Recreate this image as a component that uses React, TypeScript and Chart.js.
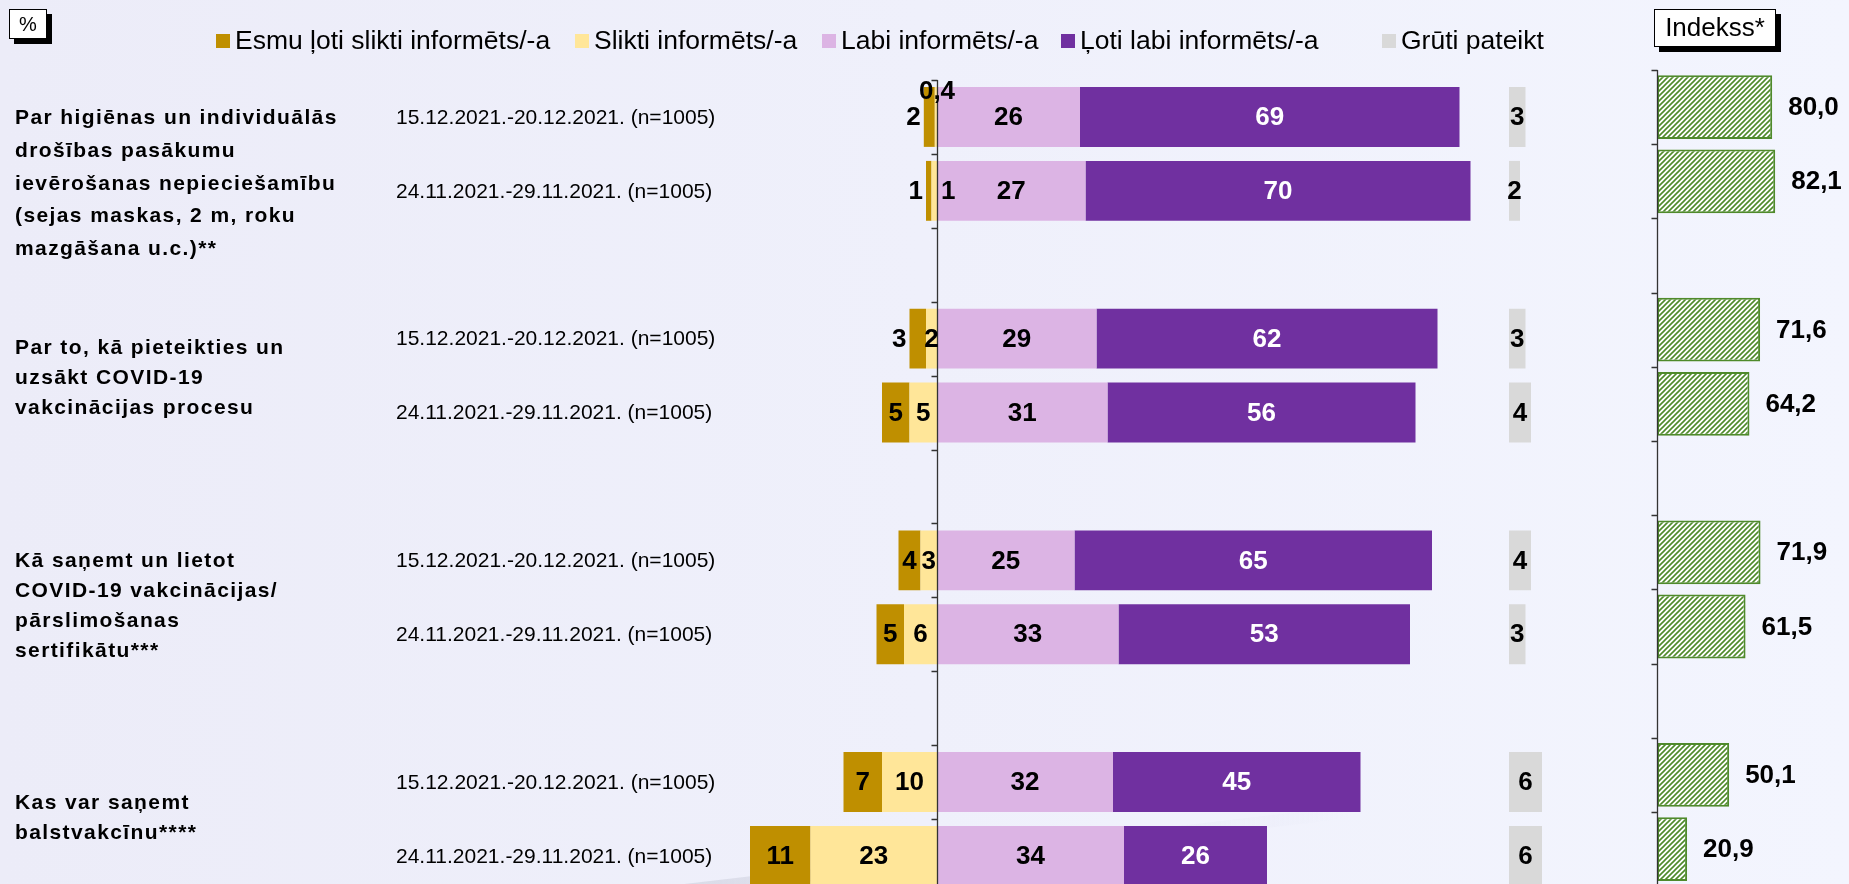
import React, { useEffect, useRef } from "react";
import { Chart, registerables } from "chart.js";

Chart.register(...registerables);

// ---------------- DATA ----------------
const GROUP_LABELS: string[][] = [
  ["Par higiēnas un individuālās", "drošības pasākumu", "ievērošanas nepieciešamību", "(sejas maskas, 2 m, roku", "mazgāšana u.c.)**"],
  ["Par to, kā pieteikties un", "uzsākt COVID-19", "vakcinācijas procesu"],
  ["Kā saņemt un lietot", "COVID-19 vakcinācijas/", "pārslimošanas", "sertifikātu***"],
  ["Kas var saņemt", "balstvakcīnu****"],
];
const WAVES = ["15.12.2021.-20.12.2021. (n=1005)", "24.11.2021.-29.11.2021. (n=1005)"];
const SERIES_NAMES = [
  "Esmu ļoti slikti informēts/-a",
  "Slikti informēts/-a",
  "Labi informēts/-a",
  "Ļoti labi informēts/-a",
  "Grūti pateikt",
];
const VERY_BAD = [2, 1, 3, 5, 4, 5, 7, 11];
const BAD = [0.4, 1, 2, 5, 3, 6, 10, 23];
const GOOD = [26, 27, 29, 31, 25, 33, 32, 34];
const VERY_GOOD = [69, 70, 62, 56, 65, 53, 45, 26];
const HARD = [3, 2, 3, 4, 4, 3, 6, 6];
const INDEX = [80.0, 82.1, 71.6, 64.2, 71.9, 61.5, 50.1, 20.9];
const INDEX_TITLE = "Indekss*";
const UNIT_TITLE = "%";

// ---------------- STYLE / LAYOUT ----------------
const COLORS = ["#BF8F00", "#FFE699", "#DCB4E4", "#7030A0", "#D9D9D9"];
const GREEN = "#4F8A2B";
const SANS = "'Liberation Sans', Arial, sans-serif";
const W = 1849;
const H = 900;
const ZERO_X = 937; // pixel of 0 on the main scale
const PX_PER_UNIT = 5.5;
const HARD_OFFSET = 104; // grūti pateikt column start, in main-scale units
const IDX_ZERO_X = 1657;
const IDX_PX_PER_UNIT = 1.44;
const LEGEND_X = [216, 575, 822, 1061, 1382];
const GROUP_SHIFT = [30, 2.5, 8.5, -0.5];
const GROUP_LINE_H = [32.8, 30, 30, 30];

// slots: two waves per group, empty slot between groups
const SLOT_ROWS: (number | null)[] = [];
GROUP_LABELS.forEach((_, g) => {
  if (g > 0) SLOT_ROWS.push(null);
  SLOT_ROWS.push(g * 2, g * 2 + 1);
});
const slot = <T,>(arr: T[]) => SLOT_ROWS.map((r) => (r == null ? null : arr[r]));
const SLOT_LABELS = SLOT_ROWS.map((r) => (r == null ? "" : WAVES[r % 2]));

const fmt = (v: number) => String(v).replace(".", ",");
const fmt1 = (v: number) => v.toFixed(1).replace(".", ",");

function drawBox(ctx: CanvasRenderingContext2D, x: number, y: number, w: number, h: number, text: string, font: string) {
  ctx.save();
  ctx.fillStyle = "#000";
  ctx.fillRect(x + 5, y + 5, w, h);
  ctx.fillStyle = "#fff";
  ctx.fillRect(x, y, w, h);
  ctx.strokeStyle = "#000";
  ctx.lineWidth = 1;
  ctx.strokeRect(x + 0.5, y + 0.5, w - 1, h - 1);
  ctx.fillStyle = "#000";
  ctx.font = font;
  ctx.textAlign = "center";
  ctx.textBaseline = "middle";
  ctx.fillText(text, x + w / 2, y + h / 2 + 1);
  ctx.restore();
}

function drawAxis(chart: any, zero: number) {
  const ctx = chart.ctx as CanvasRenderingContext2D;
  const { top, bottom } = chart.chartArea;
  const x = Math.round(chart.scales.x.getPixelForValue(zero)) + 0.5;
  ctx.save();
  ctx.strokeStyle = "#333";
  ctx.lineWidth = 1.3;
  ctx.beginPath();
  ctx.moveTo(x, top);
  ctx.lineTo(x, bottom);
  const n = chart.data.labels.length;
  for (let i = 0; i <= n; i++) {
    const y = Math.round(top + ((bottom - top) * i) / n) + 0.5;
    ctx.moveTo(x - 6, y);
    ctx.lineTo(x, y);
  }
  ctx.stroke();
  ctx.restore();
}

export default function App() {
  const mainRef = useRef<HTMLCanvasElement>(null);
  const idxRef = useRef<HTMLCanvasElement>(null);

  useEffect(() => {
    document.body.style.margin = "0";
    document.body.style.overflow = "hidden";

    const datasets: any[] = [
      { key: "bad", label: SERIES_NAMES[1], color: COLORS[1], values: slot(BAD), data: slot(BAD).map((v) => (v == null ? null : [-v, 0])) },
      {
        key: "veryBad", label: SERIES_NAMES[0], color: COLORS[0], values: slot(VERY_BAD),
        data: SLOT_ROWS.map((r) => (r == null ? null : [-(BAD[r] + VERY_BAD[r]), -BAD[r]])),
      },
      { key: "good", label: SERIES_NAMES[2], color: COLORS[2], values: slot(GOOD), data: slot(GOOD).map((v) => (v == null ? null : [0, v])) },
      {
        key: "veryGood", label: SERIES_NAMES[3], color: COLORS[3], values: slot(VERY_GOOD),
        data: SLOT_ROWS.map((r) => (r == null ? null : [GOOD[r], GOOD[r] + VERY_GOOD[r]])),
      },
      { key: "hard", label: SERIES_NAMES[4], color: COLORS[4], values: slot(HARD), data: slot(HARD).map((v) => (v == null ? null : [HARD_OFFSET, HARD_OFFSET + v])) },
    ].map((d) => ({
      ...d,
      backgroundColor: d.color,
      borderWidth: 0,
      grouped: false,
      barPercentage: 0.81,
      categoryPercentage: 1,
    }));

    const mainPlugin = {
      id: "mainDecor",
      beforeDatasetsDraw(chart: any) {
        // faint decorative swoosh of the slide background
        const ctx = chart.ctx as CanvasRenderingContext2D;
        ctx.save();
        const g = ctx.createLinearGradient(600, 0, 1350, 0);
        g.addColorStop(0, "rgba(195,198,212,0.55)");
        g.addColorStop(0.5, "rgba(205,208,222,0.3)");
        g.addColorStop(1, "rgba(215,218,230,0)");
        ctx.strokeStyle = g;
        ctx.lineWidth = 12;
        ctx.beginPath();
        ctx.moveTo(600, 900);
        ctx.lineTo(1350, 812);
        ctx.stroke();
        ctx.restore();
      },
      afterDatasetsDraw(chart: any) {
        const ctx = chart.ctx as CanvasRenderingContext2D;
        drawAxis(chart, 0);
        const axisX = chart.scales.x.getPixelForValue(0);
        ctx.save();
        ctx.font = `bold 26px ${SANS}`;
        ctx.textBaseline = "middle";
        chart.data.datasets.forEach((ds: any, di: number) => {
          const meta = chart.getDatasetMeta(di);
          meta.data.forEach((el: any, i: number) => {
            const v = ds.values[i];
            if (v == null) return;
            const p = el.getProps(["x", "base", "y", "height"], true);
            const left = Math.min(p.x, p.base);
            const right = Math.max(p.x, p.base);
            const top = p.y - p.height / 2;
            let tx = (left + right) / 2;
            let ty = p.y + 1;
            let align: CanvasTextAlign = "center";
            if (ds.key === "bad") {
              if (v < 1) {
                tx = axisX;
                ty = top + 5;
              } else if (v <= 1) {
                tx = axisX + 4;
                align = "left";
              }
            } else if (ds.key === "veryBad" && v < 4) {
              tx = left - 3;
              align = "right";
            }
            ctx.textAlign = align;
            ctx.fillStyle = ds.key === "veryGood" ? "#fff" : "#000";
            ctx.fillText(fmt(v), tx, ty);
          });
        });
        ctx.restore();
      },
      afterDraw(chart: any) {
        const ctx = chart.ctx as CanvasRenderingContext2D;
        const y = chart.scales.y;
        ctx.save();
        // legend
        ctx.font = `26.5px ${SANS}`;
        ctx.textBaseline = "middle";
        ctx.textAlign = "left";
        SERIES_NAMES.forEach((name, i) => {
          ctx.fillStyle = COLORS[i];
          ctx.fillRect(LEGEND_X[i], 34, 14, 14);
          ctx.fillStyle = "#000";
          ctx.fillText(name, LEGEND_X[i] + 19, 42);
        });
        // wave (date) labels
        ctx.font = `21px ${SANS}`;
        ctx.fillStyle = "#000";
        SLOT_ROWS.forEach((r, i) => {
          if (r == null) return;
          ctx.fillText(WAVES[r % 2], 396, y.getPixelForValue(i) + 1);
        });
        // group labels (bold, letter-spaced)
        ctx.font = `bold 21px ${SANS}`;
        (ctx as any).letterSpacing = "1.4px";
        GROUP_LABELS.forEach((lines, g) => {
          const i1 = SLOT_ROWS.indexOf(g * 2);
          const i2 = SLOT_ROWS.indexOf(g * 2 + 1);
          const c = (y.getPixelForValue(i1) + y.getPixelForValue(i2)) / 2 + GROUP_SHIFT[g];
          lines.forEach((ln, k) => {
            ctx.fillText(ln, 15, c + (k - (lines.length - 1) / 2) * GROUP_LINE_H[g]);
          });
        });
        (ctx as any).letterSpacing = "0px";
        ctx.restore();
        drawBox(ctx, 9, 9, 38, 30, UNIT_TITLE, `20px ${SANS}`);
      },
    };

    const main = new Chart(mainRef.current as HTMLCanvasElement, {
      type: "bar",
      data: { labels: SLOT_LABELS, datasets },
      options: {
        indexAxis: "y",
        animation: false,
        responsive: false,
        events: [],
        layout: { padding: { top: 80, bottom: H - 80 - 11 * 73.9, left: 0, right: 0 } },
        scales: {
          x: { type: "linear", display: false, min: -ZERO_X / PX_PER_UNIT, max: (W - ZERO_X) / PX_PER_UNIT },
          y: { type: "category", display: false, offset: true },
        },
        plugins: { legend: { display: false }, tooltip: { enabled: false } },
      } as any,
      plugins: [mainPlugin],
    });

    // hatched pattern for index bars
    const T = 5;
    const pc = document.createElement("canvas");
    pc.width = T;
    pc.height = T;
    const pctx = pc.getContext("2d") as CanvasRenderingContext2D;
    pctx.fillStyle = "#fff";
    pctx.fillRect(0, 0, T, T);
    pctx.strokeStyle = GREEN;
    pctx.lineWidth = 1.6;
    pctx.beginPath();
    for (let k = -1; k <= 1; k++) {
      pctx.moveTo(-1 + k * T, T + 1);
      pctx.lineTo(T + 1 + k * T, -1);
    }
    pctx.stroke();
    const pattern = (idxRef.current as HTMLCanvasElement).getContext("2d")!.createPattern(pc, "repeat");

    const idxPlugin = {
      id: "idxDecor",
      afterDatasetsDraw(chart: any) {
        const ctx = chart.ctx as CanvasRenderingContext2D;
        drawAxis(chart, 0);
        ctx.save();
        ctx.font = `bold 26px ${SANS}`;
        ctx.textBaseline = "middle";
        ctx.textAlign = "left";
        ctx.fillStyle = "#000";
        const meta = chart.getDatasetMeta(0);
        const vals = chart.data.datasets[0].data;
        meta.data.forEach((el: any, i: number) => {
          const v = vals[i];
          if (v == null) return;
          const p = el.getProps(["x", "y"], true);
          ctx.fillText(fmt1(v), p.x + 16, p.y + 1);
        });
        ctx.restore();
      },
      afterDraw(chart: any) {
        drawBox(chart.ctx, 1654, 9, 122, 38, INDEX_TITLE, `26px ${SANS}`);
      },
    };

    const idx = new Chart(idxRef.current as HTMLCanvasElement, {
      type: "bar",
      data: {
        labels: SLOT_LABELS,
        datasets: [
          {
            label: INDEX_TITLE,
            data: slot(INDEX),
            backgroundColor: pattern as any,
            borderColor: GREEN,
            borderWidth: 2,
            borderSkipped: false,
            barPercentage: 0.86,
            categoryPercentage: 1,
          },
        ],
      },
      options: {
        indexAxis: "y",
        animation: false,
        responsive: false,
        events: [],
        layout: { padding: { top: 70, bottom: H - 70 - 11 * 74.2, left: 0, right: 0 } },
        scales: {
          x: { type: "linear", display: false, min: -IDX_ZERO_X / IDX_PX_PER_UNIT, max: (W - IDX_ZERO_X) / IDX_PX_PER_UNIT },
          y: { type: "category", display: false, offset: true },
        },
        plugins: { legend: { display: false }, tooltip: { enabled: false } },
      } as any,
      plugins: [idxPlugin],
    });

    return () => {
      main.destroy();
      idx.destroy();
    };
  }, []);

  return (
    <div
      style={{
        position: "fixed",
        left: 0,
        top: 0,
        width: W,
        height: 884,
        overflow: "hidden",
        background: "linear-gradient(90deg, #ECECF8 0%, #EFF0FB 50%, #F3F5FE 100%)",
      }}
    >
      <canvas ref={mainRef} width={W} height={H} style={{ position: "absolute", left: 0, top: 0, width: W, height: H }} />
      <canvas ref={idxRef} width={W} height={H} style={{ position: "absolute", left: 0, top: 0, width: W, height: H }} />
    </div>
  );
}
